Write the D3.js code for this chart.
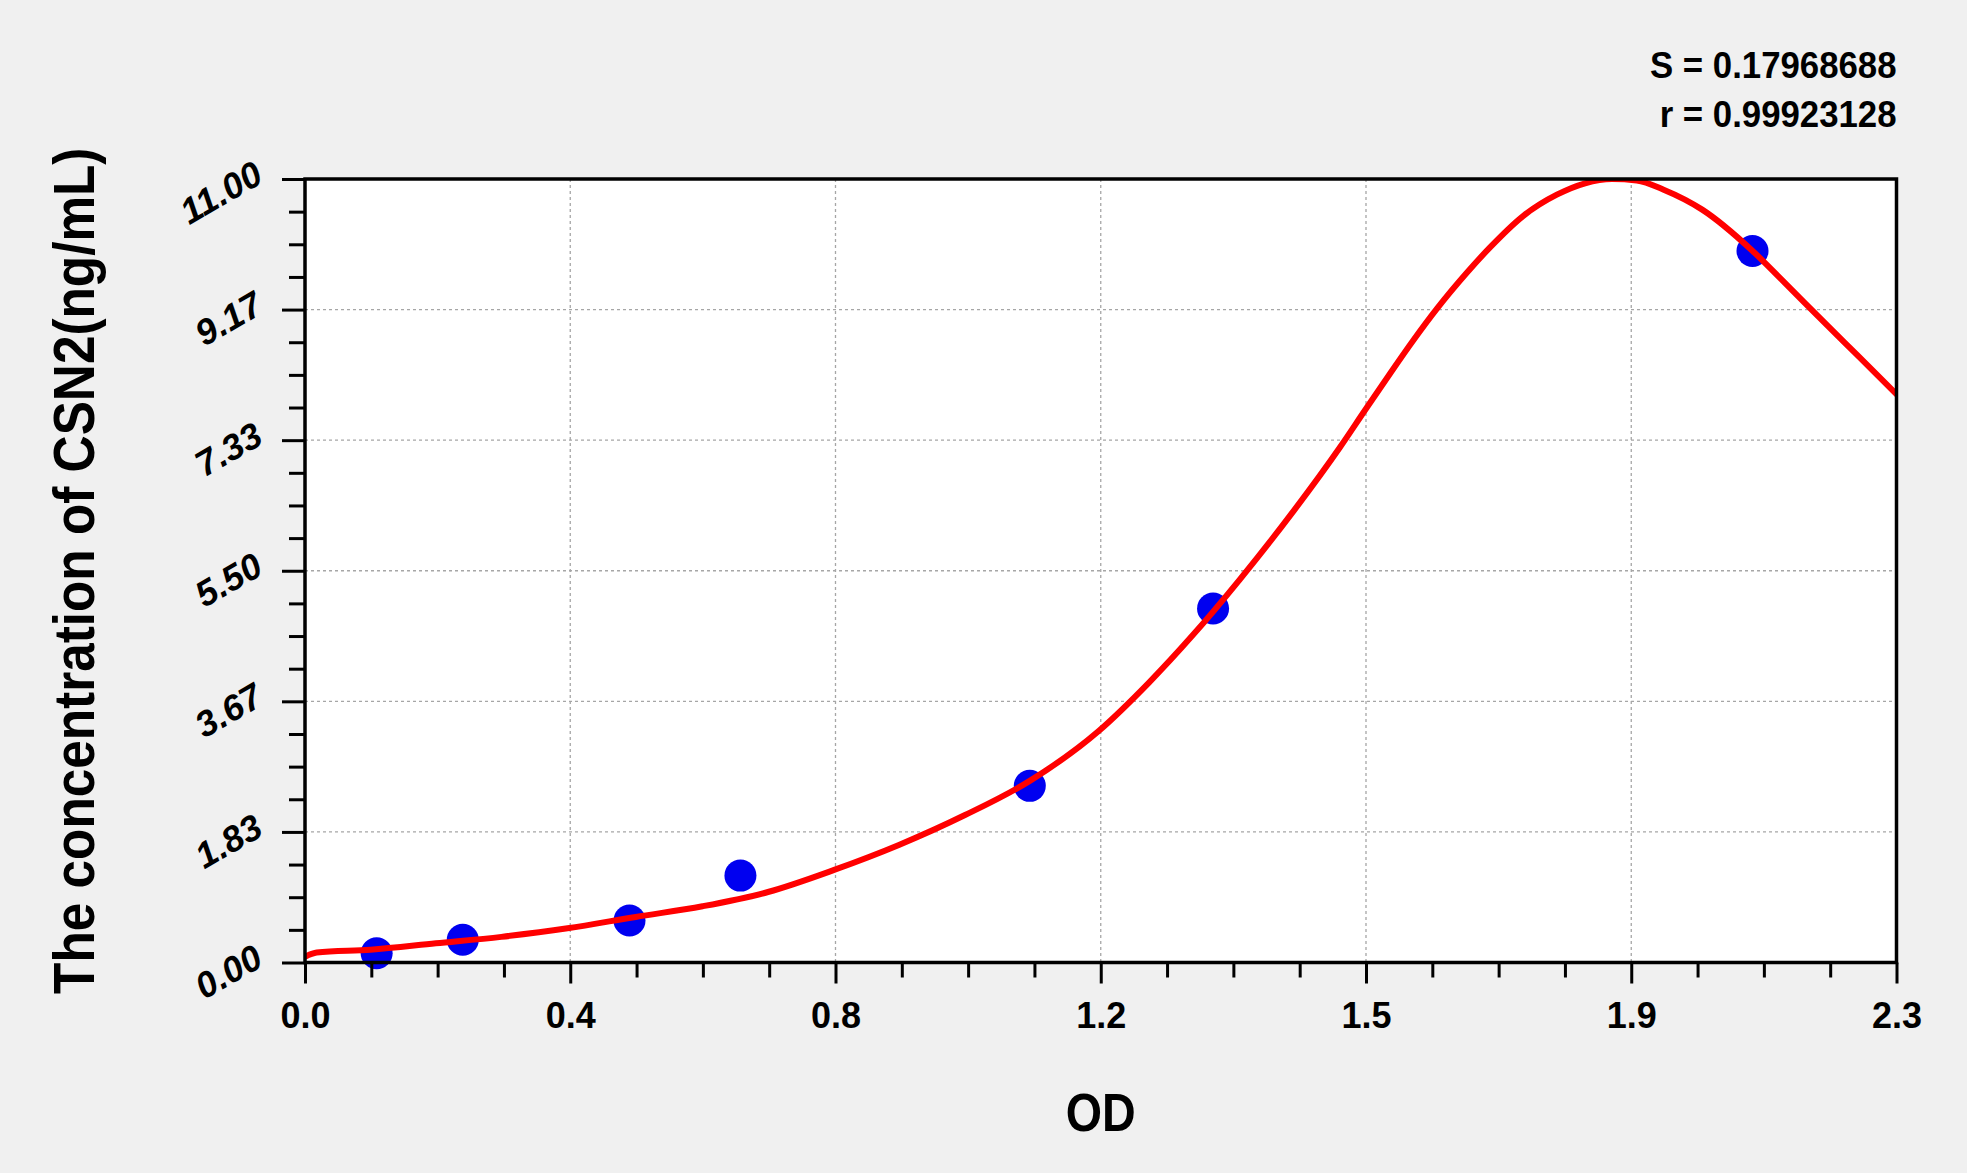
<!DOCTYPE html>
<html>
<head>
<meta charset="utf-8">
<script src="https://cdn.jsdelivr.net/npm/d3@7"></script>
<style>
  html, body { margin: 0; padding: 0; background: #f0f0f0; }
  svg { display: block; }
  text { font-family: "Liberation Sans", Arial, sans-serif; font-weight: bold; fill: #000; }
</style>
</head>
<body>
<svg id="chart" width="1967" height="1173"></svg>
<script>
// ---- data ----
const xTickLabels = ["0.0", "0.4", "0.8", "1.2", "1.5", "1.9", "2.3"];
const yTickLabels = ["0.00", "1.83", "3.67", "5.50", "7.33", "9.17", "11.00"];
const xMax = 2.31;
const yMax = 11;
const pointOD   = [0.104, 0.229, 0.471, 0.632, 1.052, 1.318, 2.101];
const pointConc = [0.13, 0.32, 0.59, 1.22, 2.48, 4.97, 9.99];
const curveOD   = [0.000, 0.017, 0.095, 0.190, 0.285, 0.381, 0.480, 0.577, 0.672, 0.768, 0.862, 0.958, 1.052, 1.152, 1.225, 1.289, 1.357, 1.435, 1.502, 1.539, 1.575, 1.609, 1.643, 1.686, 1.720, 1.768, 1.817, 1.858, 1.897, 1.933, 1.972, 2.028, 2.100, 2.144, 2.211, 2.255, 2.311];
const curveConc = [0.08, 0.14, 0.18, 0.27, 0.36, 0.48, 0.64, 0.79, 0.99, 1.30, 1.65, 2.07, 2.55, 3.25, 3.93, 4.60, 5.38, 6.34, 7.23, 7.76, 8.27, 8.74, 9.18, 9.68, 10.04, 10.48, 10.78, 10.94, 11.00, 10.98, 10.85, 10.57, 10.00, 9.58, 8.93, 8.51, 7.97];
const statLines = ["S = 0.17968688", "r = 0.99923128"];
const xTitle = "OD";
const yTitle = "The concentration of CSN2(ng/mL)";

// ---- layout ----
const L = 305, R = 1896.5, T = 179, B = 962.5;
const svg = d3.select("#chart");
const x = d3.scaleLinear().domain([0, xMax]).range([L, R]);
const y = d3.scaleLinear().domain([0, yMax]).range([B, T]);

const xMajor = d3.range(xTickLabels.length).map(i => i * xMax / (xTickLabels.length - 1));
const yMajor = d3.range(yTickLabels.length).map(i => i * yMax / (yTickLabels.length - 1));
const xMinor = d3.range(25).map(i => i * xMax / 24).filter((d, i) => i % 4 !== 0);
const yMinor = d3.range(25).map(i => i * yMax / 24).filter((d, i) => i % 4 !== 0);

svg.append("rect").attr("width", 1967).attr("height", 1173).attr("fill", "#f0f0f0");
svg.append("rect").attr("x", L).attr("y", T).attr("width", R - L).attr("height", B - T).attr("fill", "#fff");

// grid
const grid = svg.append("g").attr("stroke", "#a6a6a6").attr("stroke-width", 1.3).attr("stroke-dasharray", "3,3");
grid.selectAll("line.v").data(xMajor.slice(1, -1)).join("line")
  .attr("x1", d => x(d)).attr("x2", d => x(d)).attr("y1", T).attr("y2", B);
grid.selectAll("line.h").data(yMajor.slice(1, -1)).join("line")
  .attr("y1", d => y(d)).attr("y2", d => y(d)).attr("x1", L).attr("x2", R);

// clip
svg.append("clipPath").attr("id", "clip").append("rect")
  .attr("x", L).attr("y", T).attr("width", R - L).attr("height", B - T);
const curveData = curveOD.map((d, i) => [d, curveConc[i]]);
const line = d3.line().x(d => x(d[0])).y(d => y(d[1])).curve(d3.curveMonotoneX);

// points
svg.append("g").selectAll("circle").data(pointOD.map((d, i) => [d, pointConc[i]])).join("circle")
  .attr("cx", d => x(d[0])).attr("cy", d => y(d[1])).attr("r", 16).attr("fill", "#0000f0");

// curve on top of the points
svg.append("path").datum(curveData)
  .attr("clip-path", "url(#clip)")
  .attr("fill", "none").attr("stroke", "#ff0000").attr("stroke-width", 6)
  .attr("stroke-linejoin", "round")
  .attr("d", line);

// axes
const xAxis = svg.append("g").attr("transform", `translate(0,${B})`)
  .call(d3.axisBottom(x).tickValues(xMajor).tickSize(21).tickPadding(18)
    .tickFormat((d, i) => xTickLabels[i]));
const xAxisMinor = svg.append("g").attr("transform", `translate(0,${B})`)
  .call(d3.axisBottom(x).tickValues(xMinor).tickSize(15).tickFormat(""));
const yAxis = svg.append("g").attr("transform", `translate(${L},0)`)
  .call(d3.axisLeft(y).tickValues(yMajor).tickSize(23)
    .tickFormat((d, i) => yTickLabels[i]));
const yAxisMinor = svg.append("g").attr("transform", `translate(${L},0)`)
  .call(d3.axisLeft(y).tickValues(yMinor).tickSize(16).tickFormat(""));

[xAxis, xAxisMinor, yAxis, yAxisMinor].forEach(g => {
  g.select(".domain").remove();
  g.selectAll(".tick line").attr("stroke", "#000").attr("stroke-width", 3);
});
xAxis.selectAll(".tick text")
  .attr("font-size", 36).attr("font-family", '"Liberation Sans", Arial, sans-serif')
  .attr("font-weight", "bold").attr("fill", "#000")
  .attr("dy", null).attr("y", 65);
yAxis.selectAll(".tick text")
  .attr("font-size", 36).attr("font-family", '"Liberation Sans", Arial, sans-serif')
  .attr("font-weight", "bold").attr("font-style", "italic").attr("fill", "#000")
  .attr("text-anchor", "end").attr("x", 0).attr("dy", null)
  .attr("transform", "translate(-40,2) rotate(-30)");

// frame
svg.append("rect").attr("x", L).attr("y", T).attr("width", R - L).attr("height", B - T)
  .attr("fill", "none").attr("stroke", "#000").attr("stroke-width", 3.5);

// stats text
svg.append("g").selectAll("text").data(statLines).join("text")
  .attr("transform", (d, i) => `translate(${R},${78 + i * 49}) scale(0.94,1)`)
  .attr("text-anchor", "end").attr("font-size", 37).text(d => d);

// axis titles
svg.append("text").attr("transform", `translate(${(L + R) / 2},1131) scale(0.88,1)`)
  .attr("text-anchor", "middle").attr("font-size", 53).text(xTitle);
svg.append("text").attr("transform", `translate(94,${(T + B) / 2}) rotate(-90) scale(0.9,1)`)
  .attr("text-anchor", "middle").attr("font-size", 57).text(yTitle);
</script>
</body>
</html>
